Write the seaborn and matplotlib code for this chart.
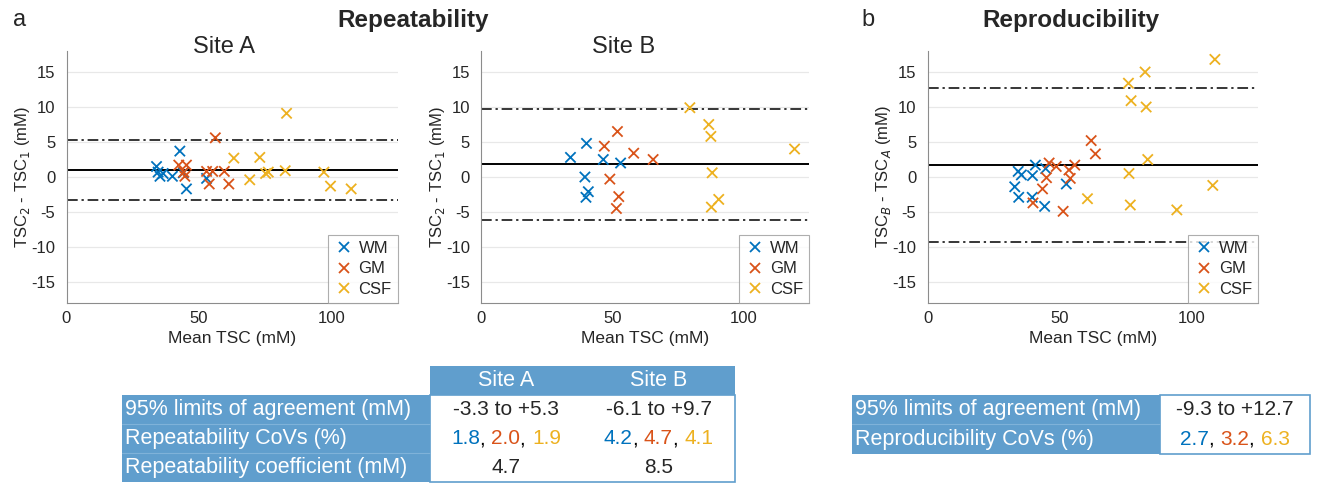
import matplotlib
matplotlib.use("Agg")
import matplotlib.pyplot as plt
import seaborn as sns
import pandas as pd
import numpy as np
from matplotlib.patches import Rectangle
from matplotlib.lines import Line2D

sns.set_style("white")
plt.rcParams['font.family'] = ['Liberation Sans', 'DejaVu Sans']
plt.rcParams['axes.unicode_minus'] = False

# ---------------- data ----------------
tissues = ["WM", "GM", "CSF"]
tissue_colors = ["#0072BD", "#D95319", "#EDB120"]

# Site A repeatability (mean TSC, TSC2 - TSC1)
siteA_wm_mean = [34.0, 34.6, 35.3, 36.5, 40.0, 42.8, 44.1, 45.3, 52.9]
siteA_wm_diff = [1.5, 0.7, 0.1, 0.5, 0.1, 3.7, 0.6, -1.7, -0.2]
siteA_gm_mean = [42.4, 45.3, 44.3, 44.7, 52.9, 55.2, 53.9, 56.2, 59.6, 61.3]
siteA_gm_diff = [1.7, 1.7, 0.7, 0.1, 0.8, 0.8, -1.0, 5.6, 0.8, -1.0]
siteA_csf_mean = [63.2, 69.2, 73.0, 75.2, 76.2, 82.6, 83.1, 97.2, 99.7, 107.5]
siteA_csf_diff = [2.7, -0.4, 2.8, 0.5, 0.7, 0.9, 9.1, 0.7, -1.3, -1.7]

# Site B repeatability
siteB_wm_mean = [34.1, 40.2, 39.6, 40.9, 40.0, 46.6, 53.2]
siteB_wm_diff = [2.8, 4.8, 0.0, -2.1, -2.9, 2.5, 2.0]
siteB_gm_mean = [47.0, 52.0, 49.1, 52.5, 51.6, 58.2, 65.6]
siteB_gm_diff = [4.4, 6.5, -0.3, -2.8, -4.5, 3.4, 2.5]
siteB_csf_mean = [79.6, 86.8, 87.6, 88.1, 87.8, 90.6, 119.5]
siteB_csf_diff = [9.9, 7.5, 5.8, 0.6, -4.3, -3.2, 4.0]

# Reproducibility (TSC_B - TSC_A)
repro_wm_mean = [33.0, 34.5, 34.3, 35.5, 39.7, 39.6, 40.8, 44.7, 44.3, 52.5]
repro_wm_diff = [-1.4, -2.9, 0.8, 0.3, 0.2, -2.9, 1.7, 1.2, -4.2, -1.0]
repro_gm_mean = [46.0, 48.7, 45.0, 43.5, 39.9, 51.3, 53.5, 54.0, 55.7, 61.9, 63.5]
repro_gm_diff = [2.0, 1.5, -0.1, -1.7, -3.7, -4.9, 1.0, -0.2, 1.7, 5.2, 3.3]
repro_csf_mean = [60.5, 76.0, 77.0, 76.2, 76.7, 82.3, 82.7, 83.3, 94.3, 108.7, 107.9]
repro_csf_diff = [-3.1, 13.4, 10.9, 0.5, -4.0, 15.0, 10.0, 2.5, -4.7, 16.8, -1.2]

# bias and limits of agreement
siteA_bias, siteA_loa = 1.0, (-3.3, 5.3)
siteB_bias, siteB_loa = 1.8, (-6.1, 9.7)
repro_bias, repro_loa = 1.7, (-9.3, 12.7)

# table contents
rep_header = ["Site A", "Site B"]
rep_row_labels = ["95% limits of agreement (mM)", "Repeatability CoVs (%)",
                  "Repeatability coefficient (mM)"]
rep_loa_text = ["-3.3 to +5.3", "-6.1 to +9.7"]
rep_covs = [["1.8", "2.0", "1.9"], ["4.2", "4.7", "4.1"]]
rep_coef_text = ["4.7", "8.5"]
repro_row_labels = ["95% limits of agreement (mM)", "Reproducibility CoVs (%)"]
repro_loa_text = "-9.3 to +12.7"
repro_covs = ["2.7", "3.2", "6.3"]


def make_df(means, diffs):
    rows = []
    for t, m, d in zip(tissues, means, diffs):
        for mm, dd in zip(m, d):
            rows.append({"Tissue": t, "Mean": mm, "Diff": dd})
    return pd.DataFrame(rows)


dfA = make_df([siteA_wm_mean, siteA_gm_mean, siteA_csf_mean],
              [siteA_wm_diff, siteA_gm_diff, siteA_csf_diff])
dfB = make_df([siteB_wm_mean, siteB_gm_mean, siteB_csf_mean],
              [siteB_wm_diff, siteB_gm_diff, siteB_csf_diff])
dfR = make_df([repro_wm_mean, repro_gm_mean, repro_csf_mean],
              [repro_wm_diff, repro_gm_diff, repro_csf_diff])

# ---------------- figure ----------------
W, H = 1317, 486
fig = plt.figure(figsize=(W / 100, H / 100), dpi=100)
fig.patch.set_facecolor("white")


def px_axes(x0, y0, x1, y1):
    return fig.add_axes([x0 / W, 1 - y1 / H, (x1 - x0) / W, (y1 - y0) / H])


palette = dict(zip(tissues, tissue_colors))
axis_col = "#8c8c8c"
tick_col = "#262626"


def bland_altman(ax, df, bias, loa, ylabel):
    ax.set_axisbelow(True)
    ax.yaxis.grid(True, color="#e8e8e8", lw=0.9)
    ax.xaxis.grid(False)
    sns.scatterplot(data=df, x="Mean", y="Diff", hue="Tissue", hue_order=tissues,
                    palette=palette, marker="x", s=55, linewidth=1.3, ax=ax,
                    legend=False, zorder=3)
    ax.axhline(bias, color="black", lw=1.4, zorder=2)
    for v in loa:
        ax.axhline(v, color="black", lw=1.1, ls=(0, (7, 2.5, 1.5, 2.5)), zorder=2)
    ax.set_xlim(0, 125)
    ax.set_ylim(-18, 18)
    ax.set_xticks([0, 50, 100])
    ax.set_yticks([-15, -10, -5, 0, 5, 10, 15])
    for s in ["top", "right"]:
        ax.spines[s].set_visible(False)
    for s in ["left", "bottom"]:
        ax.spines[s].set_color(axis_col)
        ax.spines[s].set_linewidth(0.8)
    ax.tick_params(direction="in", length=3, width=0.7, color=axis_col,
                   labelsize=12, labelcolor=tick_col, pad=6)
    ax.tick_params(axis="y", pad=8)
    ax.set_xlabel("Mean TSC (mM)", fontsize=12.5, color=tick_col, labelpad=3)
    ax.set_ylabel(ylabel, fontsize=12, color=tick_col)
    ax.yaxis.set_label_coords(-0.105, 0.5)
    handles = [Line2D([], [], ls="none", marker="x", color=c, markersize=7,
                      markeredgewidth=1.3, label=t)
               for t, c in zip(tissues, tissue_colors)]
    leg = ax.legend(handles=handles, loc="lower right", borderaxespad=0,
                    fontsize=12, frameon=True, fancybox=False, handletextpad=0.3,
                    handlelength=1.2, borderpad=0.35, labelspacing=0.35)
    leg.get_frame().set_edgecolor("#9a9a9a")
    leg.get_frame().set_linewidth(0.8)


axA = px_axes(66.5, 51, 397.5, 303)
axB = px_axes(481, 51, 809, 303)
axR = px_axes(927.5, 51, 1258, 303)
bland_altman(axA, dfA, siteA_bias, siteA_loa, "TSC$_2$ - TSC$_1$ (mM)")
bland_altman(axB, dfB, siteB_bias, siteB_loa, "TSC$_2$ - TSC$_1$ (mM)")
bland_altman(axR, dfR, repro_bias, repro_loa, "TSC$_B$ - TSC$_A$ (mM)")

# ---------------- overlay (titles + tables) ----------------
bg = fig.add_axes([0, 0, 1, 1], zorder=10)
bg.set_xlim(0, W)
bg.set_ylim(H, 0)
bg.axis("off")

bg.text(20, 20, "a", fontsize=17, ha="center", va="center")
bg.text(868, 20, "b", fontsize=17, ha="center", va="center")
bg.text(413, 20, "Repeatability", fontsize=17.5, fontweight="bold", ha="center", va="center")
bg.text(1071, 20, "Reproducibility", fontsize=17.5, fontweight="bold", ha="center", va="center")
bg.text(224, 47, "Site A", fontsize=17, ha="center", va="center")
bg.text(624, 47, "Site B", fontsize=17, ha="center", va="center")

blue = "#609ecd"
border = "#609ecd"
lfs = 15.5
vfs = 15

renderer = fig.canvas.get_renderer()


def colored_covs(cx, cy, vals):
    pieces = []
    for i, (v, c) in enumerate(zip(vals, tissue_colors)):
        pieces.append((v, c))
        if i < len(vals) - 1:
            pieces.append((", ", "black"))
    texts = []
    for s, c in pieces:
        t = bg.text(0, cy, s, color=c, fontsize=vfs, ha="left", va="center")
        texts.append(t)
    widths = [t.get_window_extent(renderer).width for t in texts]
    x = cx - sum(widths) / 2
    for t, w in zip(texts, widths):
        t.set_x(x)
        x += w


# repeatability table
hx = [430, 582, 735]
rows_y = [366, 395, 424, 453, 482]
lx0 = 122
bg.add_patch(Rectangle((hx[0], rows_y[0]), hx[2] - hx[0], rows_y[1] - rows_y[0],
                       facecolor=blue, edgecolor="none"))
bg.add_patch(Rectangle((lx0, rows_y[1]), hx[0] - lx0, rows_y[4] - rows_y[1],
                       facecolor=blue, edgecolor="none"))
bg.add_patch(Rectangle((hx[0], rows_y[1]), hx[2] - hx[0], rows_y[4] - rows_y[1],
                       facecolor="white", edgecolor=border, lw=1.2))
for y in rows_y[2:4]:
    bg.plot([lx0, hx[0]], [y, y], color="#7fb2d9", lw=0.8)
for j, h in enumerate(rep_header):
    bg.text((hx[j] + hx[j + 1]) / 2, (rows_y[0] + rows_y[1]) / 2, h, color="white",
            fontsize=lfs, ha="center", va="center")
for i, lab in enumerate(rep_row_labels):
    bg.text(lx0 + 3, (rows_y[i + 1] + rows_y[i + 2]) / 2, lab, color="white",
            fontsize=lfs, ha="left", va="center")
for j in range(2):
    cx = (hx[j] + hx[j + 1]) / 2
    bg.text(cx, (rows_y[1] + rows_y[2]) / 2, rep_loa_text[j], fontsize=vfs,
            ha="center", va="center")
    colored_covs(cx, (rows_y[2] + rows_y[3]) / 2, rep_covs[j])
    bg.text(cx, (rows_y[3] + rows_y[4]) / 2, rep_coef_text[j], fontsize=vfs,
            ha="center", va="center")

# reproducibility table
rx = [852, 1160, 1310]
ry = [395, 424, 454]
bg.add_patch(Rectangle((rx[0], ry[0]), rx[1] - rx[0], ry[2] - ry[0],
                       facecolor=blue, edgecolor="none"))
bg.add_patch(Rectangle((rx[1], ry[0]), rx[2] - rx[1], ry[2] - ry[0],
                       facecolor="white", edgecolor=border, lw=1.2))
bg.plot([rx[0], rx[1]], [ry[1], ry[1]], color="#7fb2d9", lw=0.8)
for i, lab in enumerate(repro_row_labels):
    bg.text(rx[0] + 3, (ry[i] + ry[i + 1]) / 2, lab, color="white", fontsize=lfs,
            ha="left", va="center")
cx = (rx[1] + rx[2]) / 2
bg.text(cx, (ry[0] + ry[1]) / 2, repro_loa_text, fontsize=vfs, ha="center", va="center")
colored_covs(cx, (ry[1] + ry[2]) / 2, repro_covs)

fig.savefig("out.png", dpi=100)
